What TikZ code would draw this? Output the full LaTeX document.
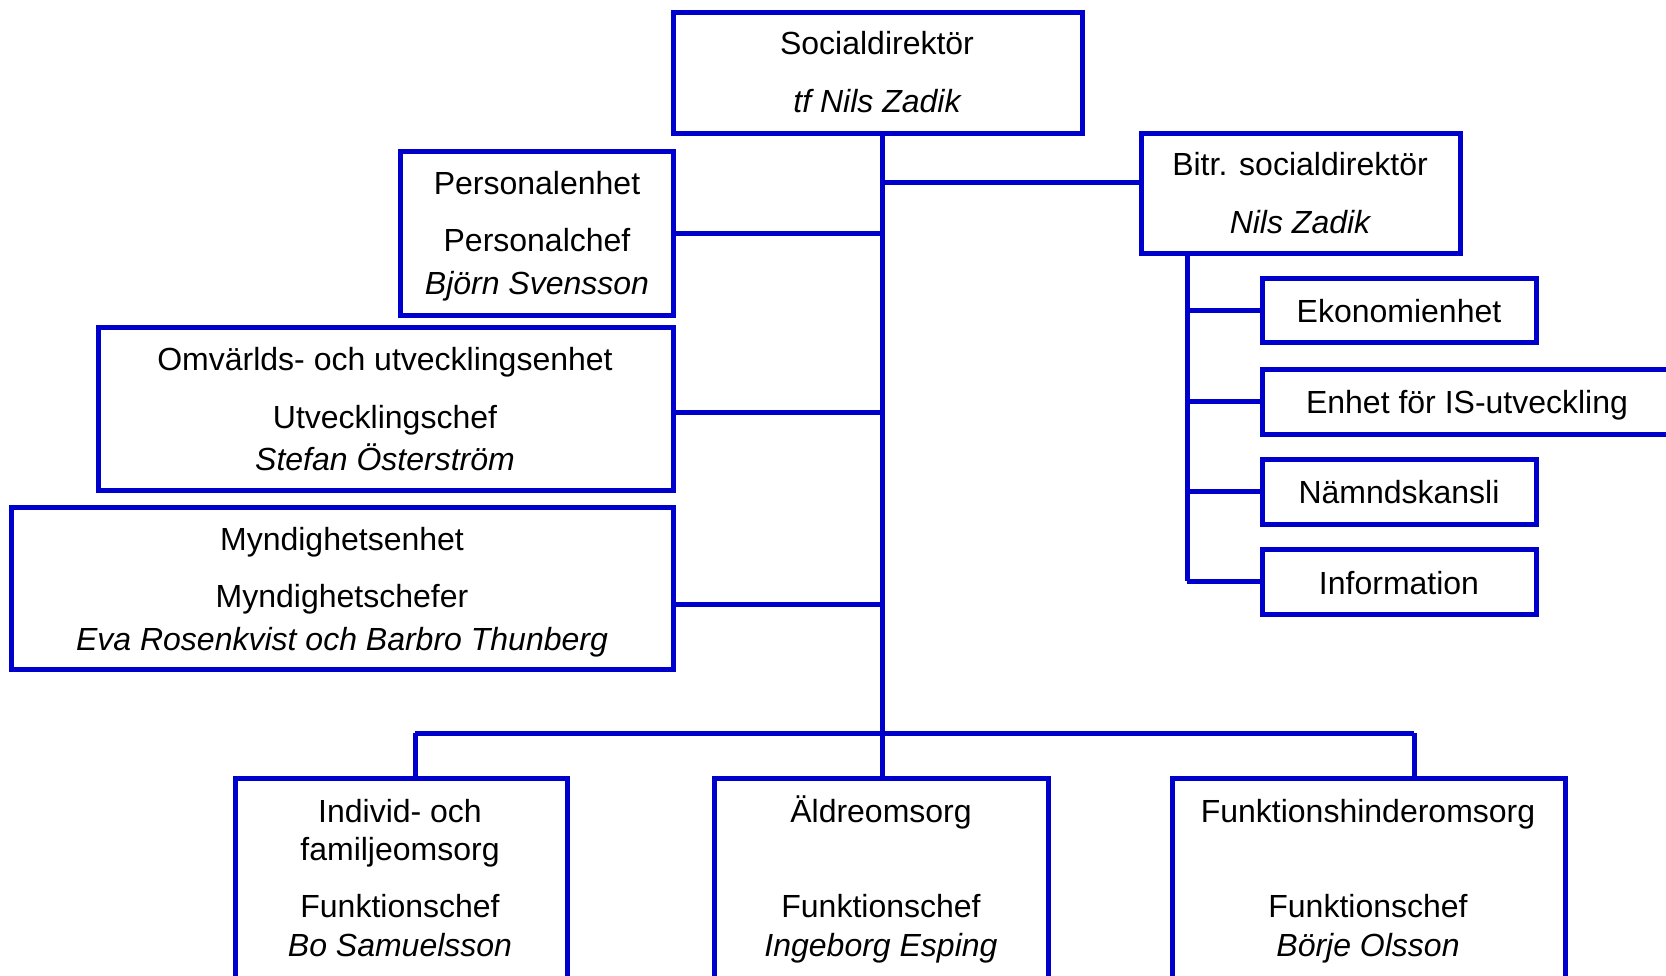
\documentclass[tikz,border=0pt]{standalone}
\usepackage{fontspec}
\setmainfont{Liberation Sans}
\definecolor{orgblue}{RGB}{0,0,204}
\begin{document}
\begin{tikzpicture}[x=0.5pt,y=-0.5pt,
  box/.style={draw=orgblue,line width=2.5pt,fill=white,inner sep=0pt,rectangle},
  wire/.style={draw=orgblue,line width=2.5pt},
  lbl/.style={inner sep=0pt,font=\fontsize{16}{19}\selectfont,text height=0.716em,text depth=0pt,anchor=center},
  ilbl/.style={lbl,font=\fontsize{16}{19}\selectfont\itshape}]
\useasboundingbox (0,0) rectangle (1666,975);
\clip (0,0) rectangle (1666,975);
% boxes
\node[box,minimum width=204.5pt,minimum height=60.5pt] (top) at (877.5,72.5) {};
\node[box,minimum width=159.5pt,minimum height=60pt] (bitr) at (1300.5,193) {};
\node[box,minimum width=137pt,minimum height=32pt] (eko) at (1399,310) {};
\node[box,minimum width=205pt,minimum height=32.5pt] (is) at (1467,401.5) {};
\node[box,minimum width=137pt,minimum height=32.5pt] (namnd) at (1399,491.5) {};
\node[box,minimum width=137pt,minimum height=32.5pt] (info) at (1399,581.5) {};
\node[box,minimum width=136.5pt,minimum height=82pt] (pers) at (536.5,233) {};
\node[box,minimum width=287.5pt,minimum height=81.5pt] (omv) at (385.5,408.5) {};
\node[box,minimum width=331pt,minimum height=81pt] (mynd) at (342,588) {};
\node[box,minimum width=166pt,minimum height=106pt] (indiv) at (401,884) {};
\node[box,minimum width=167pt,minimum height=106pt] (aldre) at (881,884) {};
\node[box,minimum width=196.5pt,minimum height=106pt] (funk) at (1368.5,884) {};
% coordinates for wiring
\coordinate (bus) at (882,733);
\coordinate (jb) at (882,182);
\coordinate (sv) at (1187,253);
\coordinate (svb) at (1187,581);
\coordinate (bl) at (415,733);
\coordinate (br) at (1414,733);
% connectors
\draw[wire] (top.south -| bus) -- (bus);
\draw[wire] (jb) -- (jb -| bitr.west);
\draw[wire] (pers.east) -- (pers.east -| bus);
\draw[wire] ([yshift=-2pt]omv.east) -- ([yshift=-2pt]omv.east -| bus);
\draw[wire] ([yshift=-8pt]mynd.east) -- ([yshift=-8pt]mynd.east -| bus);
\draw[wire] (sv) -- (svb);
\draw[wire] (eko.west -| sv) -- (eko.west);
\draw[wire] (is.west -| sv) -- (is.west);
\draw[wire] (namnd.west -| sv) -- (namnd.west);
\draw[wire] (svb) -- (svb -| info.west);
\draw[wire] (bl) -- (br);
\draw[wire] (bl) -- (bl |- indiv.north);
\draw[wire] (bus) -- (bus |- aldre.north);
\draw[wire] (br) -- (br |- funk.north);
% labels
\node[lbl] (t1) at (877,47) {Socialdirektör};
\node[ilbl] (t2) at (877,105) {tf Nils Zadik};
\node[lbl] (b1) at (1300,168) {Bitr. socialdirektör};
\node[ilbl] (b2) at (1300,226) {Nils Zadik};
\node[lbl] (p1) at (537,187) {Personalenhet};
\node[lbl] (p2) at (537,244) {Personalchef};
\node[ilbl] (p3) at (537,287) {Björn Svensson};
\node[lbl] (o1) at (385,363) {Omvärlds- och utvecklingsenhet};
\node[lbl] (o2) at (385,421) {Utvecklingschef};
\node[ilbl] (o3) at (385,463) {Stefan Österström};
\node[lbl] (m1) at (342,543) {Myndighetsenhet};
\node[lbl] (m2) at (342,600) {Myndighetschefer};
\node[ilbl] (m3) at (342,643) {Eva Rosenkvist och Barbro Thunberg};
\node[lbl] (i1) at (400,815) {Individ- och};
\node[lbl] (i2) at (400,853) {familjeomsorg};
\node[lbl] (i3) at (400,910) {Funktionschef};
\node[ilbl] (i4) at (400,949) {Bo Samuelsson};
\node[lbl] (a1) at (881,815) {Äldreomsorg};
\node[lbl] (a2) at (881,910) {Funktionschef};
\node[ilbl] (a3) at (881,949) {Ingeborg Esping};
\node[lbl] (f1) at (1368,815) {Funktionshinderomsorg};
\node[lbl] (f2) at (1368,910) {Funktionschef};
\node[ilbl] (f3) at (1368,949) {Börje Olsson};
\node[lbl] (e1) at (1399,315) {Ekonomienhet};
\node[lbl] (s1) at (1467,406) {Enhet för IS-utveckling};
\node[lbl] (n1) at (1399,496) {Nämndskansli};
\node[lbl] (in1) at (1399,587) {Information};
\end{tikzpicture}
\end{document}
